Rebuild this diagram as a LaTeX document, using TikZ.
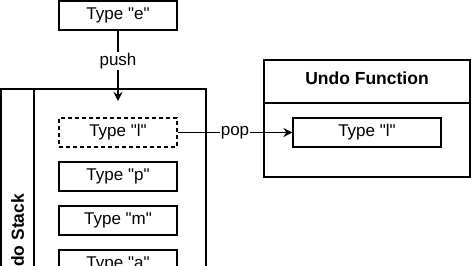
\documentclass[tikz,border=0pt]{standalone}
\usepackage{fontspec}
\setmainfont{Liberation Sans}[Ligatures=TeXOff]
\usetikzlibrary{arrows.meta}

\begin{document}
\begin{tikzpicture}[x=1pt, y=-1pt, font=\fontsize{17}{20}\selectfont]
    \definecolor{borderColour}{HTML}{000000}
    \definecolor{fillColour}{HTML}{FFFFFF}

    \tikzset{
        item/.style={draw=borderColour, fill=fillColour, line width=1.1pt, minimum width=118, minimum height=29, inner sep=0pt},
        container/.style={draw=borderColour, line width=1.1pt, inner sep=0pt},
        title/.style={font=\fontsize{17.5}{20}\selectfont\bfseries, inner sep=0pt},
        flow/.style={draw=borderColour, line width=1.1pt, -{Stealth[length=9pt, width=9pt]}},
        flowlabel/.style={fill=white, inner sep=1pt}
    }

    % Fix the page to the reference frame
    \clip (0,0) rectangle (471,265);

    % Item being pushed
    \node[item] (typeE) at (118,15.5) {Type "e"};

    % Undo stack container with its vertical title band
    \node[container, minimum width=205, minimum height=311] (undoStack) at (103.5,244.5) {};
    \draw[line width=1.1pt, draw=borderColour] (34,89) -- (34,400);
    \node[title, rotate=90] (stackTitle) at (17.5,242) {Undo Stack};

    % Items on the stack
    \node[item, dash pattern=on 4pt off 3pt] (typeL) at (118,132.5) {Type "l"};
    \node[item] (typeP) at (118,176.5) {Type "p"};
    \node[item] (typeM) at (118,220.5) {Type "m"};
    \node[item] (typeA) at (118,264.5) {Type "a"};

    % Undo function container
    \node[container, minimum width=206, minimum height=117] (undoFunc) at (367,118.5) {};
    \draw[line width=1.1pt, draw=borderColour] (264,103) -- (470,103);
    \node[title] (funcTitle) at (367,78) {Undo Function};
    \node[item, minimum width=148] (typeLout) at (367,132.5) {Type "l"};

    % Push and pop connectors
    \coordinate (pushEnd) at (118,101);
    \draw[flow] (typeE) -- node[flowlabel, pos=0.43] {push} (pushEnd);
    \draw[flow] (typeL) -- node[flowlabel] {pop} (typeLout);

\end{tikzpicture}
\end{document}
